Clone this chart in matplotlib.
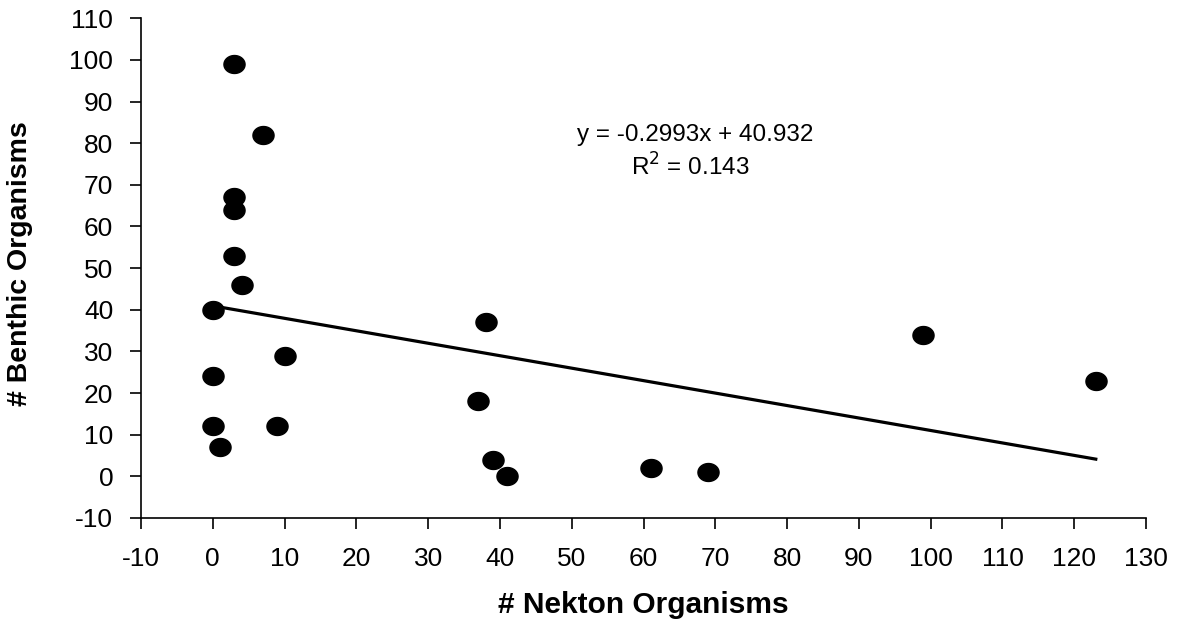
import numpy as np
import matplotlib
matplotlib.use("Agg")
import matplotlib.pyplot as plt
from matplotlib.path import Path

# nekton vs benthic counts
nekton = [3, 7, 3, 3, 3, 4, 0, 10, 0, 0, 9, 1, 38, 37, 39, 41, 61, 69, 99, 123]
benthic = [99, 82, 67, 64, 53, 46, 40, 29, 24, 12, 12, 7, 37, 18, 4, 0, 2, 1, 34, 23]
slope = -0.2993
intercept = 40.932
r2 = 0.143

plt.rcParams['font.family'] = ['Liberation Sans', 'DejaVu Sans']
plt.rcParams['axes.unicode_minus'] = False

# slightly flattened dot like the excel marker
t = np.linspace(0, 2*np.pi, 60)
ell = Path(np.column_stack([np.cos(t), 0.85*np.sin(t)]), closed=True)

fig = plt.figure(figsize=(11.86, 6.24), dpi=100)
ax = fig.add_axes([0.1189, 0.170, 0.8474, 0.8007])

ax.plot(nekton, benthic, linestyle='none', marker=ell, markersize=15.2,
        color='black', zorder=3)

xl = np.array([min(nekton), max(nekton)])
ax.plot(xl, slope*xl + intercept, color='black', lw=2.3, zorder=2)

ax.text(0.551, 0.767, 'y = %.4fx + %.3f' % (slope, intercept), transform=ax.transAxes,
        ha='center', va='center', fontsize=17.5)
ax.text(0.546, 0.703, r'R$^2$ = %.3f' % r2, transform=ax.transAxes,
        ha='center', va='center', fontsize=17.5)

ax.set_xlim(-10, 130)
ax.set_ylim(-10, 110)
ax.set_xticks(np.arange(-10, 131, 10))
ax.set_yticks(np.arange(-10, 111, 10))
ax.tick_params(direction='out', length=8, width=1.2, labelsize=19)
ax.tick_params(axis='x', pad=13)
ax.tick_params(axis='y', pad=12)
ax.spines['top'].set_visible(False)
ax.spines['right'].set_visible(False)
ax.spines['left'].set_linewidth(1.2)
ax.spines['bottom'].set_linewidth(1.2)

ax.set_xlabel('# Nekton Organisms', fontsize=21.5, fontweight='bold')
ax.set_ylabel('# Benthic Organisms', fontsize=20.5, fontweight='bold')
ax.xaxis.set_label_coords(0.5, -0.147)
ax.yaxis.set_label_coords(-0.107, 0.508)

fig.savefig('out.png', dpi=100)
